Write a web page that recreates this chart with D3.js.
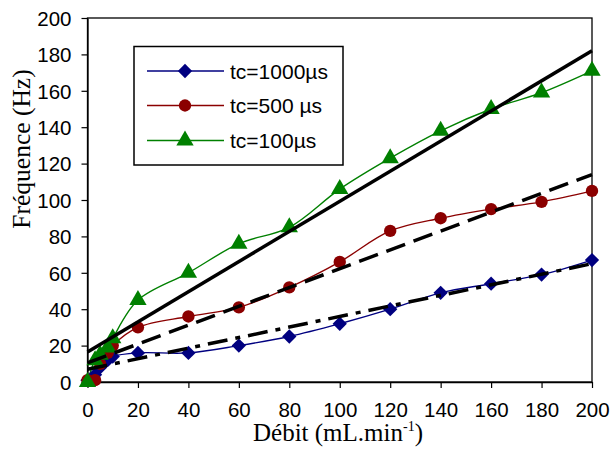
<!DOCTYPE html>
<html><head><meta charset="utf-8">
<script src="https://cdn.jsdelivr.net/npm/d3@7"></script>
<style>body{margin:0;background:#fff}svg{display:block}</style>
</head><body>
<svg id="c" width="610" height="462"></svg>
<script>
const debit = [0, 3, 5, 8, 10, 20, 40, 60, 80, 100, 120, 140, 160, 180, 200];
const tc1000 = [1, 4, 8, 12, 14, 16, 16, 20, 25, 32, 40, 49, 54, 59, 67];
const tc500 = [1, 1, 10, 16, 20, 30, 36, 41, 52, 66, 83, 90, 95, 99, 105];
const tc100 = [0, 12, 15, 19, 24, 45, 60, 76, 85, 106, 123, 138, 150, 159, 171];
const seriesNames = ["tc=1000µs", "tc=500 µs", "tc=100µs"];
// linear trend lines: [value at x=0, value at x=200]
const trend100 = [16.5, 182];
const trend500 = [10.5, 114];
const trend1000 = [7, 65];
const xTicks = [0, 20, 40, 60, 80, 100, 120, 140, 160, 180, 200];
const yTicks = [0, 20, 40, 60, 80, 100, 120, 140, 160, 180, 200];

const svg = d3.select("#c");
const x = d3.scaleLinear().domain([0, 200]).range([87.5, 592]);
const y = d3.scaleLinear().domain([0, 200]).range([382, 18]);

svg.append("rect").attr("x", x(0)).attr("y", y(200)).attr("width", x(200) - x(0)).attr("height", y(0) - y(200))
  .attr("fill", "none").attr("stroke", "#000").attr("stroke-width", 1.3);

const tickFont = "'Liberation Sans', Arial, sans-serif";
const ax = svg.append("g").attr("transform", `translate(0,${y(0)})`)
  .call(d3.axisBottom(x).tickValues(xTicks).tickSize(6).tickPadding(14).tickSizeOuter(0));
const ay = svg.append("g").attr("transform", `translate(${x(0)},0)`)
  .call(d3.axisLeft(y).tickValues(yTicks).tickSize(6).tickPadding(10).tickSizeOuter(0));
[ax, ay].forEach(a => {
  a.select(".domain").attr("stroke", "#000").attr("stroke-width", 1.3);
  a.selectAll(".tick line").attr("stroke", "#000").attr("stroke-width", 1.2);
  a.selectAll(".tick text").attr("font-family", tickFont).attr("font-size", 20.5).attr("fill", "#000");
});
ay.selectAll(".tick text").attr("dy", "0.36em");

svg.append("text").attr("x", 338).attr("y", 441).attr("text-anchor", "middle")
  .attr("font-family", "'Liberation Serif', 'Times New Roman', serif").attr("font-size", 25).attr("fill", "#000")
  .html('Débit (mL.min<tspan dy="-10" font-size="14">-1</tspan><tspan dy="10">)</tspan>');
svg.append("text").attr("transform", "translate(30,149) rotate(-90)").attr("text-anchor", "middle")
  .attr("font-family", "'Liberation Serif', 'Times New Roman', serif").attr("font-size", 25.5).attr("fill", "#000")
  .text("Fréquence (Hz)");

const colors = ["#000080", "#8B0000", "#008000"];
const values = [tc1000, tc500, tc100];
const shapes = [d3.symbolDiamond2, d3.symbolCircle, d3.symbolTriangle];
const sizes = [130, 120, 130];

const line = d3.line().x(d => x(d[0])).y(d => y(d[1])).curve(d3.curveCatmullRom.alpha(0.5));

values.forEach((vals, i) => {
  const pts = debit.map((d, j) => [d, vals[j]]);
  svg.append("path").attr("d", line(pts)).attr("fill", "none").attr("stroke", colors[i]).attr("stroke-width", 1.4);
});
values.forEach((vals, i) => {
  const pts = debit.map((d, j) => [d, vals[j]]);
  svg.append("g").selectAll("path").data(pts).join("path")
    .attr("transform", d => `translate(${x(d[0])},${y(d[1])})`)
    .attr("d", d3.symbol(shapes[i], sizes[i])).attr("fill", colors[i]);
});

const trends = [[trend100, null], [trend500, "20,9"], [trend1000, "20,8,5,8"]];
trends.forEach(([t, dash]) => {
  const p = svg.append("line").attr("x1", x(0)).attr("y1", y(t[0])).attr("x2", x(200)).attr("y2", y(t[1]))
    .attr("stroke", "#000").attr("stroke-width", 3.5);
  if (dash) p.attr("stroke-dasharray", dash);
});

const lg = svg.append("g");
lg.append("rect").attr("x", 134).attr("y", 46.5).attr("width", 209).attr("height", 118.5)
  .attr("fill", "#fff").attr("stroke", "#000").attr("stroke-width", 1.5);
const rowsY = [71, 105.5, 140.5];
seriesNames.forEach((n, i) => {
  lg.append("line").attr("x1", 147).attr("x2", 224).attr("y1", rowsY[i]).attr("y2", rowsY[i])
    .attr("stroke", colors[i]).attr("stroke-width", 1.4);
  lg.append("path").attr("transform", `translate(185,${rowsY[i]})`).attr("d", d3.symbol(shapes[i], sizes[i])).attr("fill", colors[i]);
  lg.append("text").attr("x", 230).attr("y", rowsY[i]).attr("dy", "0.36em")
    .attr("font-family", tickFont).attr("font-size", 21).attr("fill", "#000").text(n);
});
</script>
</body></html>
